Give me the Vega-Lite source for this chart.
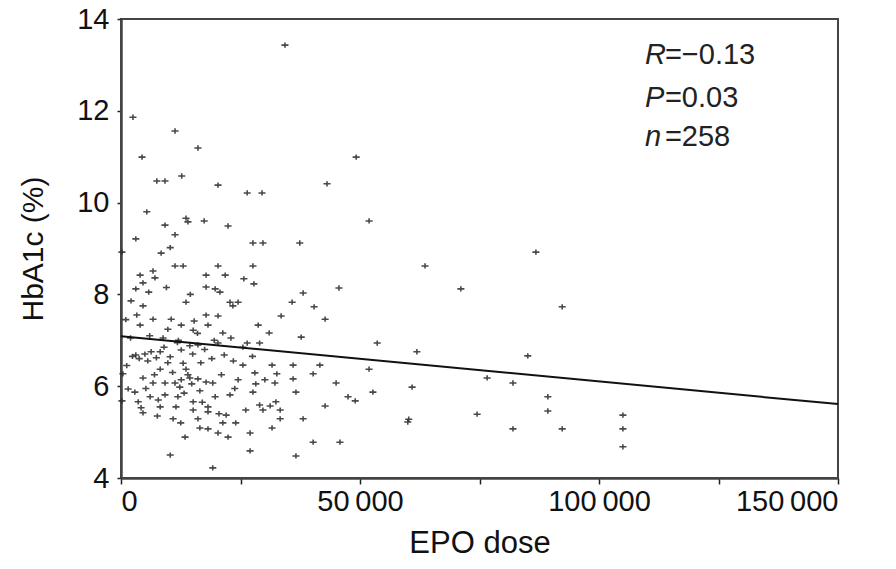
{
  "$schema": "https://vega.github.io/schema/vega-lite/v6.json",
  "width": 717,
  "height": 459,
  "autosize": {"type": "none"},
  "padding": {"left": 121, "top": 19, "right": 58, "bottom": 91},
  "background": "white",
  "config": {
    "view": {"stroke": "#444", "strokeWidth": 2},
    "font": "Liberation Sans",
    "axis": {"labelFont": "Liberation Sans", "titleFont": "Liberation Sans", "labelColor": "#111", "titleColor": "#111", "titleFontWeight": "normal", "labelFontSize": 29, "titleFontSize": 30, "domainColor": "#444", "domainWidth": 2.5, "tickColor": "#222", "tickWidth": 1.5, "tickSize": 5, "grid": false}
  },
  "datasets": {
    "pts": [
      {"d":34300,"h":13.43},{"d":2500,"h":11.86},{"d":11300,"h":11.56},{"d":16100,"h":11.19},{"d":4400,"h":10.99},
      {"d":49200,"h":10.99},{"d":7500,"h":10.47},{"d":9200,"h":10.47},{"d":12700,"h":10.58},{"d":20300,"h":10.38},
      {"d":26400,"h":10.21},{"d":29500,"h":10.21},{"d":43100,"h":10.41},{"d":5400,"h":9.80},{"d":9200,"h":9.51},
      {"d":13600,"h":9.66},{"d":14000,"h":9.58},{"d":17400,"h":9.60},{"d":22400,"h":9.49},{"d":51900,"h":9.60},
      {"d":3100,"h":9.21},{"d":11300,"h":9.30},{"d":10300,"h":9.02},{"d":27600,"h":9.12},{"d":29700,"h":9.12},
      {"d":37400,"h":9.12},{"d":63600,"h":8.62},{"d":71100,"h":8.12},{"d":86800,"h":8.92},{"d":92300,"h":7.73},
      {"d":61900,"h":6.75},{"d":85100,"h":6.66},{"d":60900,"h":5.98},{"d":76600,"h":6.18},{"d":82000,"h":6.07},
      {"d":89300,"h":5.77},{"d":89300,"h":5.46},{"d":60000,"h":5.22},{"d":60200,"h":5.28},{"d":74500,"h":5.39},
      {"d":82000,"h":5.07},{"d":92300,"h":5.07},{"d":105000,"h":5.37},{"d":105000,"h":5.07},{"d":105000,"h":4.68},
      {"d":38100,"h":8.03},{"d":35800,"h":7.83},{"d":45600,"h":8.14},{"d":40400,"h":7.73},{"d":33500,"h":7.53},
      {"d":42700,"h":7.46},{"d":31000,"h":7.16},{"d":37700,"h":7.07},{"d":53600,"h":6.94},{"d":31600,"h":6.46},
      {"d":36000,"h":6.46},{"d":41600,"h":6.46},{"d":32600,"h":6.27},{"d":40200,"h":6.27},{"d":51900,"h":6.37},
      {"d":30100,"h":6.14},{"d":32200,"h":6.07},{"d":36000,"h":6.16},{"d":45000,"h":6.07},{"d":36600,"h":5.87},
      {"d":47500,"h":5.77},{"d":49000,"h":5.68},{"d":52700,"h":5.87},{"d":29700,"h":5.48},{"d":31200,"h":5.57},
      {"d":33300,"h":5.48},{"d":42700,"h":5.57},{"d":33300,"h":5.29},{"d":38100,"h":5.29},{"d":31600,"h":5.09},
      {"d":40200,"h":4.78},{"d":45800,"h":4.78},{"d":36600,"h":4.48},{"d":8400,"h":8.90},{"d":200,"h":8.92},
      {"d":11300,"h":8.62},{"d":13000,"h":8.62},{"d":20300,"h":8.62},{"d":27600,"h":8.62},{"d":4000,"h":8.42},
      {"d":6700,"h":8.51},{"d":7100,"h":8.36},{"d":17800,"h":8.42},{"d":21800,"h":8.42},{"d":25700,"h":8.34},
      {"d":27800,"h":8.23},{"d":4600,"h":8.25},{"d":3100,"h":8.12},{"d":17800,"h":8.16},{"d":19700,"h":8.12},
      {"d":20700,"h":8.05},{"d":2100,"h":7.86},{"d":4600,"h":7.75},{"d":13600,"h":7.83},{"d":22800,"h":7.83},
      {"d":23400,"h":7.75},{"d":24500,"h":7.83},{"d":3300,"h":7.55},{"d":17800,"h":7.55},{"d":20300,"h":7.53},
      {"d":6700,"h":7.46},{"d":10500,"h":7.46},{"d":12600,"h":7.33},{"d":15300,"h":7.42},{"d":4000,"h":7.33},
      {"d":9800,"h":7.24},{"d":15100,"h":7.22},{"d":18200,"h":7.33},{"d":28700,"h":7.33},{"d":21300,"h":7.16},
      {"d":3100,"h":6.68},{"d":5000,"h":6.70},{"d":6300,"h":6.75},{"d":8200,"h":6.75},{"d":10300,"h":6.64},
      {"d":12600,"h":6.79},{"d":14400,"h":6.88},{"d":16100,"h":6.90},{"d":20300,"h":6.94},{"d":21600,"h":6.68},
      {"d":400,"h":6.27},{"d":4600,"h":6.18},{"d":8200,"h":6.37},{"d":9800,"h":6.51},{"d":13600,"h":6.37},
      {"d":16700,"h":6.51},{"d":6700,"h":6.07},{"d":9200,"h":6.07},{"d":11300,"h":6.07},{"d":12600,"h":6.14},
      {"d":14400,"h":6.18},{"d":16100,"h":6.16},{"d":17800,"h":6.09},{"d":19200,"h":6.07},{"d":12300,"h":5.98},
      {"d":1500,"h":5.94},{"d":2900,"h":5.87},{"d":24500,"h":6.14},{"d":28000,"h":6.29},{"d":27600,"h":5.87},
      {"d":25500,"h":6.46},{"d":6100,"h":5.77},{"d":9200,"h":5.81},{"d":11900,"h":5.77},{"d":19700,"h":5.77},
      {"d":22800,"h":5.81},{"d":200,"h":5.68},{"d":3600,"h":5.66},{"d":4200,"h":5.53},{"d":4600,"h":5.42},
      {"d":8200,"h":5.55},{"d":11500,"h":5.55},{"d":15100,"h":5.66},{"d":15100,"h":5.48},{"d":18200,"h":5.55},
      {"d":18200,"h":5.44},{"d":26100,"h":5.48},{"d":10900,"h":5.29},{"d":16100,"h":5.29},{"d":22000,"h":5.37},
      {"d":16500,"h":5.09},{"d":18200,"h":5.07},{"d":20300,"h":4.98},{"d":22400,"h":4.89},{"d":21300,"h":5.20},
      {"d":13400,"h":4.89},{"d":27000,"h":4.98},{"d":10300,"h":4.50},{"d":27000,"h":4.59},{"d":19200,"h":4.22},
      {"d":26400,"h":6.94},{"d":29000,"h":6.94},{"d":28200,"h":6.05},{"d":29000,"h":5.59},{"d":32400,"h":5.66},
      {"d":2400,"h":6.65},{"d":3800,"h":6.60},{"d":5600,"h":6.55},{"d":7400,"h":6.62},{"d":9000,"h":6.85},
      {"d":11800,"h":6.95},{"d":13000,"h":6.50},{"d":15000,"h":6.70},{"d":17500,"h":6.80},{"d":19000,"h":6.60},
      {"d":7000,"h":6.25},{"d":10800,"h":6.30},{"d":14800,"h":6.05},{"d":16500,"h":5.90},{"d":21000,"h":6.25},
      {"d":23500,"h":6.55},{"d":5200,"h":5.95},{"d":7800,"h":5.70},{"d":13200,"h":5.85},{"d":17000,"h":5.65},
      {"d":20500,"h":5.40},{"d":24000,"h":5.20},{"d":1200,"h":6.45},{"d":2000,"h":7.05},{"d":6000,"h":7.10},
      {"d":8800,"h":7.05},{"d":12000,"h":7.00},{"d":16000,"h":7.15},{"d":19500,"h":7.00},{"d":23000,"h":7.05},
      {"d":25500,"h":6.85},{"d":27500,"h":6.65},{"d":5800,"h":8.05},{"d":9500,"h":8.15},{"d":14500,"h":8.00},
      {"d":1000,"h":7.45},{"d":7600,"h":5.35},{"d":12500,"h":5.20},{"d":23800,"h":5.95},{"d":14000,"h":6.25}
    ],
    "fit": [{"d":0,"h":7.09},{"d":150000,"h":5.61}],
    "stats": [
      {"k":"R","rest":"=\u22120.13","d":109600,"h":13.22},
      {"k":"P","rest":"=0.03","d":109600,"h":12.28},
      {"k":"n","rest":"=258","d":109600,"h":11.43}
    ]
  },
  "layer": [
    {
      "data": {"name": "pts"},
      "mark": {"type": "point", "shape": "M-1,0H1M0,-0.75V0.75", "filled": false, "size": 50, "stroke": "#2a2a2a", "strokeWidth": 1.6, "opacity": 0.85},
      "encoding": {
        "x": {"field": "d", "type": "quantitative", "scale": {"domain": [0, 150000], "nice": false, "zero": false},
          "axis": {"title": "EPO dose", "values": [0,25000,50000,75000,100000,125000,150000], "labelExpr": "datum.value % 50000 == 0 ? replace(format(datum.value, ','), ',', '\u2009') : ''", "labelPadding": 3, "titlePadding": 12, "titleFontSize": 31, "tickSize": 6}},
        "y": {"field": "h", "type": "quantitative", "scale": {"domain": [4, 14], "nice": false, "zero": false},
          "axis": {"title": "HbA1c (%)", "values": [4,6,8,10,12,14], "labelPadding": 8, "titlePadding": 28, "titleFontSize": 30, "tickSize": 4}}
      }
    },
    {
      "data": {"name": "fit"},
      "mark": {"type": "line", "color": "#111", "strokeWidth": 2},
      "encoding": {
        "x": {"field": "d", "type": "quantitative"},
        "y": {"field": "h", "type": "quantitative"}
      }
    },
    {
      "data": {"name": "stats"},
      "mark": {"type": "text", "align": "left", "baseline": "middle", "fontSize": 29, "fontStyle": "italic", "font": "Liberation Sans", "color": "#222"},
      "encoding": {
        "x": {"field": "d", "type": "quantitative"},
        "y": {"field": "h", "type": "quantitative"},
        "text": {"field": "k"}
      }
    },
    {
      "data": {"name": "stats"},
      "mark": {"type": "text", "align": "left", "baseline": "middle", "fontSize": 29, "dx": 20, "font": "Liberation Sans", "color": "#222"},
      "encoding": {
        "x": {"field": "d", "type": "quantitative"},
        "y": {"field": "h", "type": "quantitative"},
        "text": {"field": "rest"}
      }
    }
  ]
}
